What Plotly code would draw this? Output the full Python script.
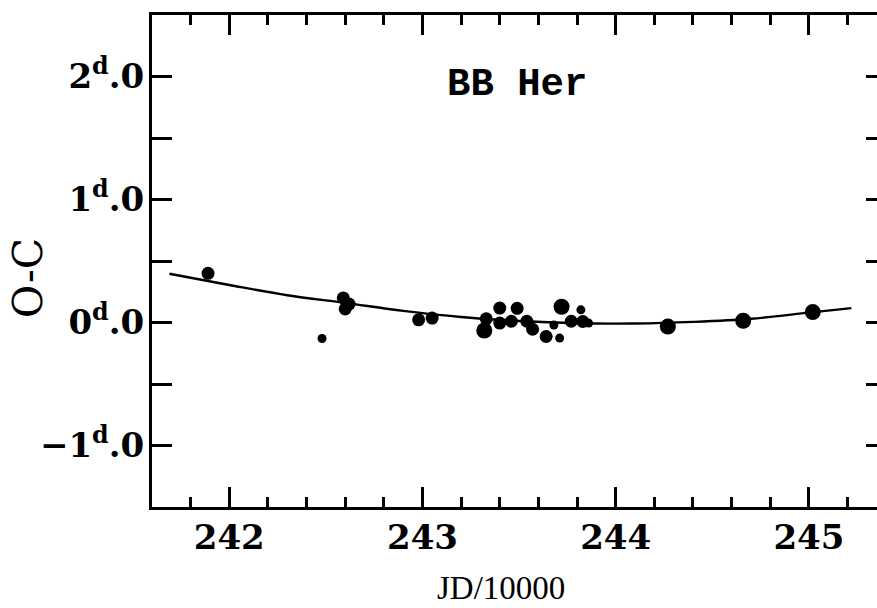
import plotly.graph_objects as go

# ---- data ----
# observed O-C points: JD/10000, O-C (days), weight class (1 small, 2 medium, 3 large)
obs_jd = [241.89, 242.48, 242.59, 242.62, 242.60, 242.98, 243.05,
          243.32, 243.33, 243.40, 243.40, 243.46, 243.49, 243.54, 243.57,
          243.64, 243.68, 243.71, 243.72, 243.77, 243.82, 243.83, 243.86,
          244.27, 244.66, 245.02]
obs_oc = [0.40, -0.13, 0.20, 0.15, 0.11, 0.022, 0.036,
          -0.065, 0.03, 0.117, -0.005, 0.01, 0.115, 0.01, -0.055,
          -0.114, -0.02, -0.127, 0.128, 0.01, 0.103, 0.008, -0.005,
          -0.033, 0.014, 0.085]
obs_weight = [2, 1, 2, 2, 2, 2, 2,
              3, 2, 2, 2, 2, 2, 2, 2,
              2, 1, 1, 3, 2, 1, 2, 1,
              3, 3, 3]

# fitted ephemeris curve
fit_jd = [241.69, 242.0, 242.3, 242.6, 242.9, 243.2, 243.5, 243.8,
          244.1, 244.4, 244.7, 245.0, 245.22]
fit_oc = [0.396, 0.305, 0.222, 0.16, 0.095, 0.045, 0.012, -0.006,
          -0.008, 0.005, 0.03, 0.08, 0.117]

y_tickvals = [-1.0, 0.0, 1.0, 2.0]
y_ticktext = ["\u22121<sup>d</sup>.0", "0<sup>d</sup>.0", "1<sup>d</sup>.0", "2<sup>d</sup>.0"]
x_tickvals = [242, 243, 244, 245]
x_ticktext = ["242", "243", "244", "245"]

star_name = "BB Her"
x_title = "JD/10000"
y_title = "O-C"

size_map = {1: 9, 2: 13, 3: 16}

fig = go.Figure()
fig.add_trace(go.Scatter(x=fit_jd, y=fit_oc, mode="lines",
                         line=dict(color="black", width=2.4, shape="spline"),
                         hoverinfo="skip", showlegend=False))
fig.add_trace(go.Scatter(x=obs_jd, y=obs_oc, mode="markers",
                         marker=dict(color="black", opacity=1,
                                     size=[size_map[w] for w in obs_weight],
                                     line=dict(width=0)),
                         showlegend=False))

# plot box: left edge at 152 px, right edge just beyond the visible window
W, H = 890, 608
L, R, T, B = 152, 4, 15, 101
px_per_unit = 193.2
x0 = 241.6
x1 = x0 + (W - L - R) / px_per_unit

tick_font = dict(family="DejaVu Serif", size=34, color="black", weight="bold")

fig.update_layout(
    template="none",
    width=W, height=H, autosize=False,
    margin=dict(l=L, r=R, t=T, b=B, pad=0, autoexpand=False),
    paper_bgcolor="white", plot_bgcolor="white",
    xaxis=dict(range=[x0, x1], showgrid=False, zeroline=False, automargin=False,
               showline=True, linecolor="black", linewidth=3, mirror="allticks",
               ticks="inside", ticklen=20, tickwidth=2.5, tickcolor="black",
               tickvals=x_tickvals, ticktext=x_ticktext, tickfont=tick_font,
               ticklabelstandoff=-2,
               minor=dict(dtick=0.2, tick0=242, ticks="inside", ticklen=10,
                          tickwidth=2.5, tickcolor="black", showgrid=False)),
    yaxis=dict(range=[-1.5, 2.5], showgrid=False, zeroline=False, automargin=False,
               showline=True, linecolor="black", linewidth=3, mirror="allticks",
               ticks="inside", ticklen=20, tickwidth=2.5, tickcolor="black",
               tickvals=y_tickvals, ticktext=y_ticktext, tickfont=tick_font,
               ticklabelstandoff=-2,
               minor=dict(dtick=0.5, tick0=0, ticks="inside", ticklen=20,
                          tickwidth=2.5, tickcolor="black", showgrid=False)),
    annotations=[
        dict(text=star_name, x=243.49, y=1.935, xref="x", yref="y",
             showarrow=False,
             font=dict(family="Liberation Mono", size=39, color="black", weight="bold")),
        dict(text=y_title, x=0, y=0.465, xref="paper", yref="paper", xshift=-124,
             xanchor="center", yanchor="middle",
             textangle=-90, showarrow=False,
             font=dict(family="DejaVu Serif", size=41, color="black")),
        dict(text=x_title, x=0.475, y=-0.165, xref="paper", yref="paper",
             showarrow=False, xanchor="center", yanchor="middle",
             font=dict(family="Liberation Serif", size=33, color="black")),
    ],
)

fig.write_html(
    "out.html",
    config={"displayModeBar": False, "responsive": False},
    post_script="document.body.style.margin='0';document.body.style.overflow='hidden';",
)
